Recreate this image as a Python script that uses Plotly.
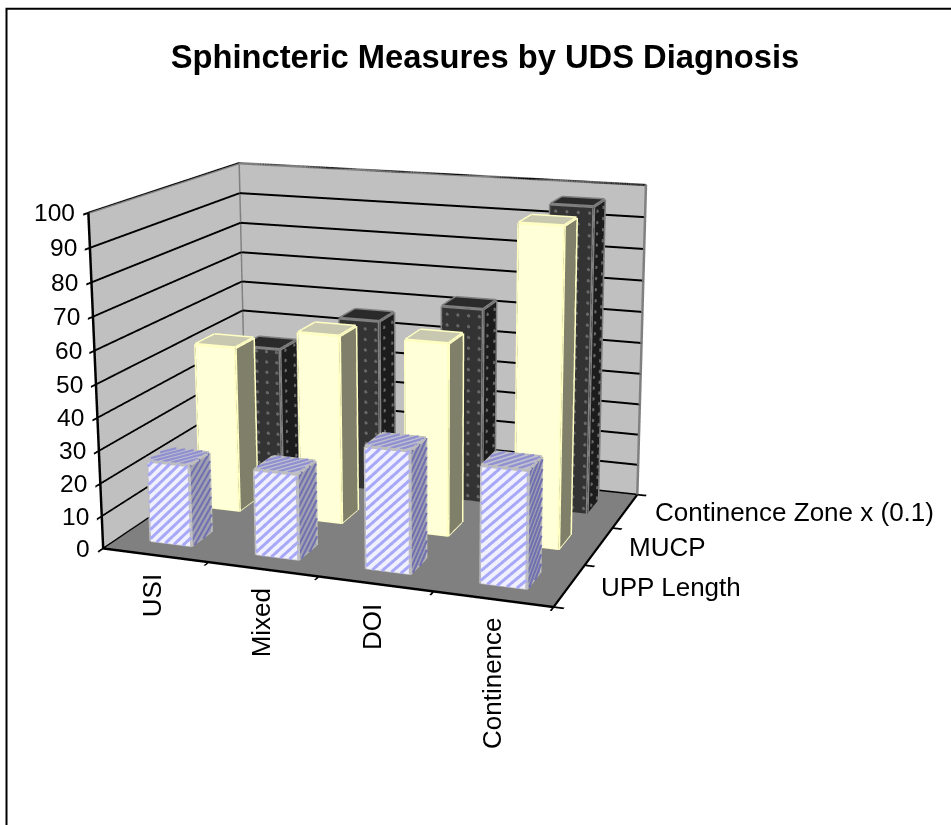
import numpy as np
import plotly.graph_objects as go

categories = ["USI", "Mixed", "DOI", "Continence"]
series = ["UPP Length", "MUCP", "Continence Zone x (0.1)"]
upp_length = [25, 26, 36.5, 34.5]
mucp = [52.5, 59, 59.5, 96.5]
zone = [44, 56, 62.5, 96.5]
values = [upp_length, mucp, zone]
z_ticks = list(range(0, 101, 10))

front_colors = ["#F0F0FF", "#FFFFD8", "#333333"]
right_colors = ["#A0A0B0", "#80806A", "#1C1C1C"]
top_colors = ["#C0C0D0", "#C8C8B0", "#2A2A2A"]
edge_colors = ["#BEBEBE", "#FFFFC4", "#808080"]
stripe_colors = ["#A8A8F8", "#7070B0", "#9090D0"]

# camera model (box side lengths, eye, look-at point, principal point and focal length in px)
BOX = np.array([1.3716, 0.9994, 1.0])
EYE_ = np.array([1.9140, -5.0364, 1.4070])
AIM = np.array([0.1198, 0.0997, 0.0820])
PCX, PCY, FOC = 429.2484, 332.0894, 1851.2772
H = FOC / 1.20711
TOP = H / 2 - PCY
XDOM = 2 * PCX / 951

def project(n):
    p = (np.array(n) - 0.5) * BOX
    w = (EYE_ - AIM) / np.linalg.norm(EYE_ - AIM)
    r = np.cross([0, 0, 1], w); r /= np.linalg.norm(r)
    u = np.cross(w, r)
    d = p - EYE_
    zc = -d.dot(w)
    return np.array([PCX + FOC * d.dot(r) / zc, PCY - FOC * d.dot(u) / zc])
def proj_data(x, y, z):
    return project((x / 4, y / 3, z / 100))
def paper_y(py):
    return 1 - (py + TOP) / H

BAR_W = 0.39
BAR_D = 0.40
BAR_DX = 0.0
PX_X, PX_Y, PX_Z = 108.0, 36.0, 3.2
STRIPE = 9.0
DOT = 11.0

def rect_stripes(o, a, b, la, lb, period):
    xs, ys, zs = [], [], []
    o, a, b = np.array(o, float), np.array(a, float), np.array(b, float)
    for c in np.arange(-la, lb, period):
        u0, u1 = max(0.0, -c), min(la, lb - c)
        if u1 <= u0:
            continue
        for u in (u0, u1):
            p = o + a * u / la + b * (u + c) / lb
            xs.append(p[0]); ys.append(p[1]); zs.append(p[2])
        xs.append(None); ys.append(None); zs.append(None)
    return xs, ys, zs

def rect_dots(o, a, b, la, lb, period):
    o, a, b = np.array(o, float), np.array(a, float), np.array(b, float)
    out = []
    for u in np.arange(period / 2, la, period):
        for v in np.arange(period / 2, lb, period):
            out.append(o + a * u / la + b * v / lb)
    return out

fig = go.Figure()
EPS = 0.004
for s, (name, vals) in enumerate(zip(series, values)):
    for c, v in enumerate(vals):
        x0, x1 = c + 0.5 + BAR_DX - BAR_W / 2, c + 0.5 + BAR_DX + BAR_W / 2
        y0, y1 = s + 0.5 - BAR_D / 2, s + 0.5 + BAR_D / 2
        xs = [x0, x1, x1, x0, x0, x1, x1, x0]
        ys = [y0, y0, y1, y1, y0, y0, y1, y1]
        zs = [0, 0, 0, 0, v, v, v, v]
        fc = [top_colors[s]] * 2 + [front_colors[s]] * 2 + [right_colors[s]] * 2
        fig.add_trace(go.Mesh3d(
            x=xs, y=ys, z=zs,
            i=[4, 4, 0, 0, 1, 1, 0, 0, 2, 2, 3, 3],
            j=[5, 6, 1, 5, 2, 6, 1, 2, 3, 7, 0, 4],
            k=[6, 7, 5, 4, 6, 5, 2, 3, 7, 6, 4, 7],
            facecolor=fc + [right_colors[s]] * 6,
            flatshading=True, lighting=dict(ambient=1, diffuse=0, specular=0, fresnel=0),
            showscale=False, hoverinfo="skip",
        ))
        ex, ey, ez = [], [], []
        for a_, b_ in [(0,1),(1,2),(2,3),(3,0),(4,5),(5,6),(6,7),(7,4),(0,4),(1,5),(2,6),(3,7)]:
            ex += [xs[a_], xs[b_], None]; ey += [ys[a_], ys[b_], None]; ez += [zs[a_], zs[b_], None]
        w_px, d_px, h_px = BAR_W * PX_X, BAR_D * PX_Y * 1.4, v * PX_Z
        faces = [
            ((x0, y0 - EPS, 0), (BAR_W, 0, 0), (0, 0, v), w_px, h_px),
            ((x1 + EPS, y0, 0), (0, BAR_D, 0), (0, 0, v), d_px, h_px),
            ((x0, y0, v + 0.2), (BAR_W, 0, 0), (0, BAR_D, 0), w_px, d_px),
        ]
        if s == 0:
            for k_, (o, a_, b_, la, lb) in enumerate(faces):
                px, py, pz = rect_stripes(o, a_, b_, la, lb, STRIPE)
                fig.add_trace(go.Scatter3d(x=px, y=py, z=pz, mode="lines",
                                           line=dict(color=stripe_colors[k_], width=6),
                                           hoverinfo="skip", showlegend=False))
        if s == 2:
            dots = []
            for o, a_, b_, la, lb in faces[:2]:
                dots += rect_dots(o, a_, b_, la, lb, DOT)
            dots = np.array(dots)
            fig.add_trace(go.Scatter3d(x=dots[:, 0], y=dots[:, 1], z=dots[:, 2], mode="markers",
                                       marker=dict(color="#686868", size=2, line=dict(width=0)),
                                       hoverinfo="skip", showlegend=False))
        fig.add_trace(go.Scatter3d(x=ex, y=ey, z=ez, mode="lines",
                                   line=dict(color=edge_colors[s], width=6), hoverinfo="skip", showlegend=False))

XMAX, YMAX, ZMAX = len(categories), len(series), z_ticks[-1]
fig.add_trace(go.Scatter3d(
    x=[0, 0, XMAX, XMAX, None, 0, 0], y=[0, YMAX, YMAX, YMAX, None, YMAX, YMAX],
    z=[ZMAX, ZMAX, ZMAX, 0, None, 0, ZMAX], mode="lines",
    line=dict(color="#808080", width=5), hoverinfo="skip", showlegend=False))

FONT = dict(family="Liberation Sans", size=26, color="black")
Z_FONT = dict(family="Liberation Sans", size=24.5, color="black")
annotations = []
for v in z_ticks:
    annotations.append(dict(x=0, y=0, z=v, text=str(v), showarrow=False, xanchor="right", yanchor="middle",
                            xshift=-11, font=Z_FONT))
cat_top = [572, 586, 602, 615]
cat_cx = [153, 262, 372, 492]
for c, name in enumerate(categories):
    p = proj_data(c + 0.5, 0, 0)
    annotations.append(dict(x=c + 0.5, y=0, z=0, text=name, showarrow=False, textangle=-90,
                            xanchor="center", yanchor="top", xshift=cat_cx[c] - p[0], yshift=p[1] - cat_top[c], font=FONT))
ser_left = [599, 627, 653]
ser_cy = [587, 547, 512]
for s, name in enumerate(series):
    p = proj_data(XMAX, s + 0.5, 0)
    annotations.append(dict(x=XMAX, y=s + 0.5, z=0, text=name, showarrow=False, xanchor="left", yanchor="middle",
                            xshift=ser_left[s] - p[0], yshift=p[1] - ser_cy[s], font=FONT))

AX = dict(title="", showspikes=False, zeroline=False, showticklabels=False, showline=True, linecolor="black",
          linewidth=5, ticks="outside", tickcolor="black", tickwidth=4, ticklen=8, showbackground=True)
fig.update_layout(
    width=951, height=H,
    margin=dict(l=0, r=0, t=0, b=0),
    paper_bgcolor="white",
    title=dict(text="<b>Sphincteric Measures by UDS Diagnosis</b>", x=485 / 951, y=paper_y(57),
               xanchor="center", yanchor="middle", font=dict(family="Liberation Sans", size=32.7, color="black")),
    shapes=[dict(type="rect", xref="paper", yref="paper", x0=6.5 / 951, x1=1.05, y0=-0.1, y1=paper_y(9),
                 line=dict(color="black", width=2))],
    scene=dict(
        domain=dict(x=[0, XDOM], y=[0, 1]),
        aspectmode="manual", aspectratio=dict(x=float(BOX[0]), y=float(BOX[1]), z=1.0),
        camera=dict(eye=dict(x=float(EYE_[0]), y=float(EYE_[1]), z=float(EYE_[2])),
                    center=dict(x=float(AIM[0]), y=float(AIM[1]), z=float(AIM[2])),
                    up=dict(x=0, y=0, z=1), projection=dict(type="perspective")),
        xaxis=dict(AX, range=[0, XMAX], tickvals=list(range(XMAX + 1)), backgroundcolor="#C0C0C0", showgrid=False),
        yaxis=dict(AX, range=[0, YMAX], tickvals=list(range(YMAX + 1)), backgroundcolor="#C0C0C0", showgrid=False),
        zaxis=dict(AX, range=[0, ZMAX], tickvals=z_ticks, backgroundcolor="#808080", showgrid=True,
                   gridcolor="black", gridwidth=4),
        annotations=annotations,
    ),
)
post = ("document.documentElement.style.overflow='hidden';document.body.style.overflow='hidden';"
        "document.body.style.margin='0';document.body.style.height='825px';"
        "gd=document.querySelector('.plotly-graph-div');gd.style.marginTop='%dpx';" % round(-TOP))
fig.write_html("out.html", post_script=post, config=dict(displayModeBar=False))
